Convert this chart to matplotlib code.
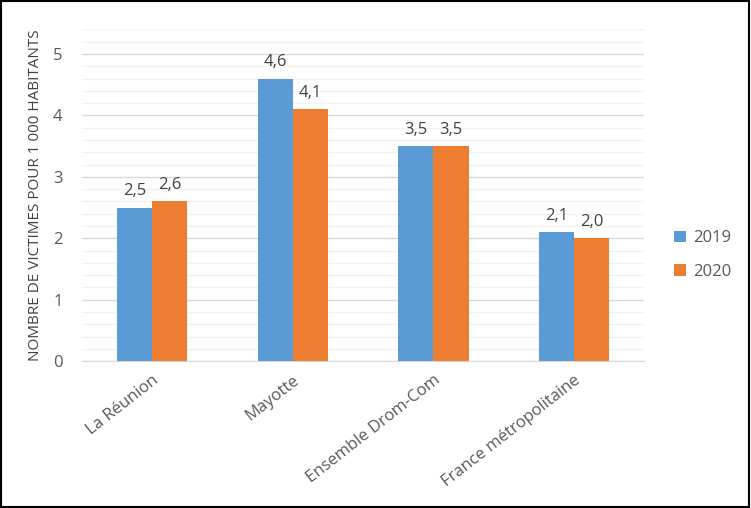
import matplotlib
matplotlib.use("Agg")
import matplotlib.pyplot as plt
import numpy as np
from matplotlib.patches import Rectangle

categories = ["La Réunion", "Mayotte", "Ensemble Drom-Com", "France métropolitaine"]
series_names = ["2019", "2020"]
values_2019 = [2.5, 4.6, 3.5, 2.1]
values_2020 = [2.6, 4.1, 3.5, 2.0]
yticks = [0, 1, 2, 3, 4, 5]

plt.rcParams['font.family'] = ['Open Sans', 'DejaVu Sans']
txt = '#595959'

fig = plt.figure(figsize=(7.51, 5.08), dpi=100)
ax = fig.add_axes([0.109, 0.289, 0.749, 0.653])

x = np.arange(len(categories))
w = 0.25
b1 = ax.bar(x - w/2, values_2019, w, color='#5B9BD5', label=series_names[0], zorder=3)
b2 = ax.bar(x + w/2, values_2020, w, color='#ED7D31', label=series_names[1], zorder=3)

for bars, vals in ((b1, values_2019), (b2, values_2020)):
    for r, v in zip(bars, vals):
        ax.annotate(f"{v:.1f}".replace('.', ','), (r.get_x() + r.get_width()/2, v),
                    xytext=(0, 6), textcoords='offset points', ha='center', va='bottom',
                    fontsize=12, color='#404040')

ax.set_xlim(-0.5, 3.5)
ax.set_ylim(0, 5.4)
ax.set_yticks(yticks)
ax.set_yticks(np.arange(0, 5.41, 0.2), minor=True)
ax.yaxis.grid(True, which='major', color='#D9D9D9', linewidth=1, zorder=0)
ax.yaxis.grid(True, which='minor', color='#F2F2F2', linewidth=1, zorder=0)
ax.set_axisbelow(True)
for s in ['top', 'right', 'left']:
    ax.spines[s].set_visible(False)
ax.spines['bottom'].set_color('#D9D9D9')
ax.tick_params(axis='both', which='both', length=0, colors=txt, labelsize=12)
ax.tick_params(axis='y', pad=14)
ax.set_xticks(x)
ax.set_xticklabels(categories, rotation=38, ha='right', rotation_mode='anchor', fontsize=12, color=txt)
ax.tick_params(axis='x', pad=8)
ax.set_ylabel("NOMBRE DE VICTIMES POUR 1 000 HABITANTS", fontsize=11, color='#404040', labelpad=7)

leg = fig.legend(handles=[b1, b2], labels=series_names, loc='upper left',
                 bbox_to_anchor=(0.878, 0.576), frameon=False, fontsize=12,
                 handlelength=0.7, handleheight=0.7, labelspacing=1.05, handletextpad=0.4)
for t in leg.get_texts():
    t.set_color(txt)

fig.patches.append(Rectangle((0.001, 0.001), 0.997, 0.997, transform=fig.transFigure,
                             fill=False, edgecolor='black', linewidth=1.5))
fig.savefig("out.png", dpi=100)
